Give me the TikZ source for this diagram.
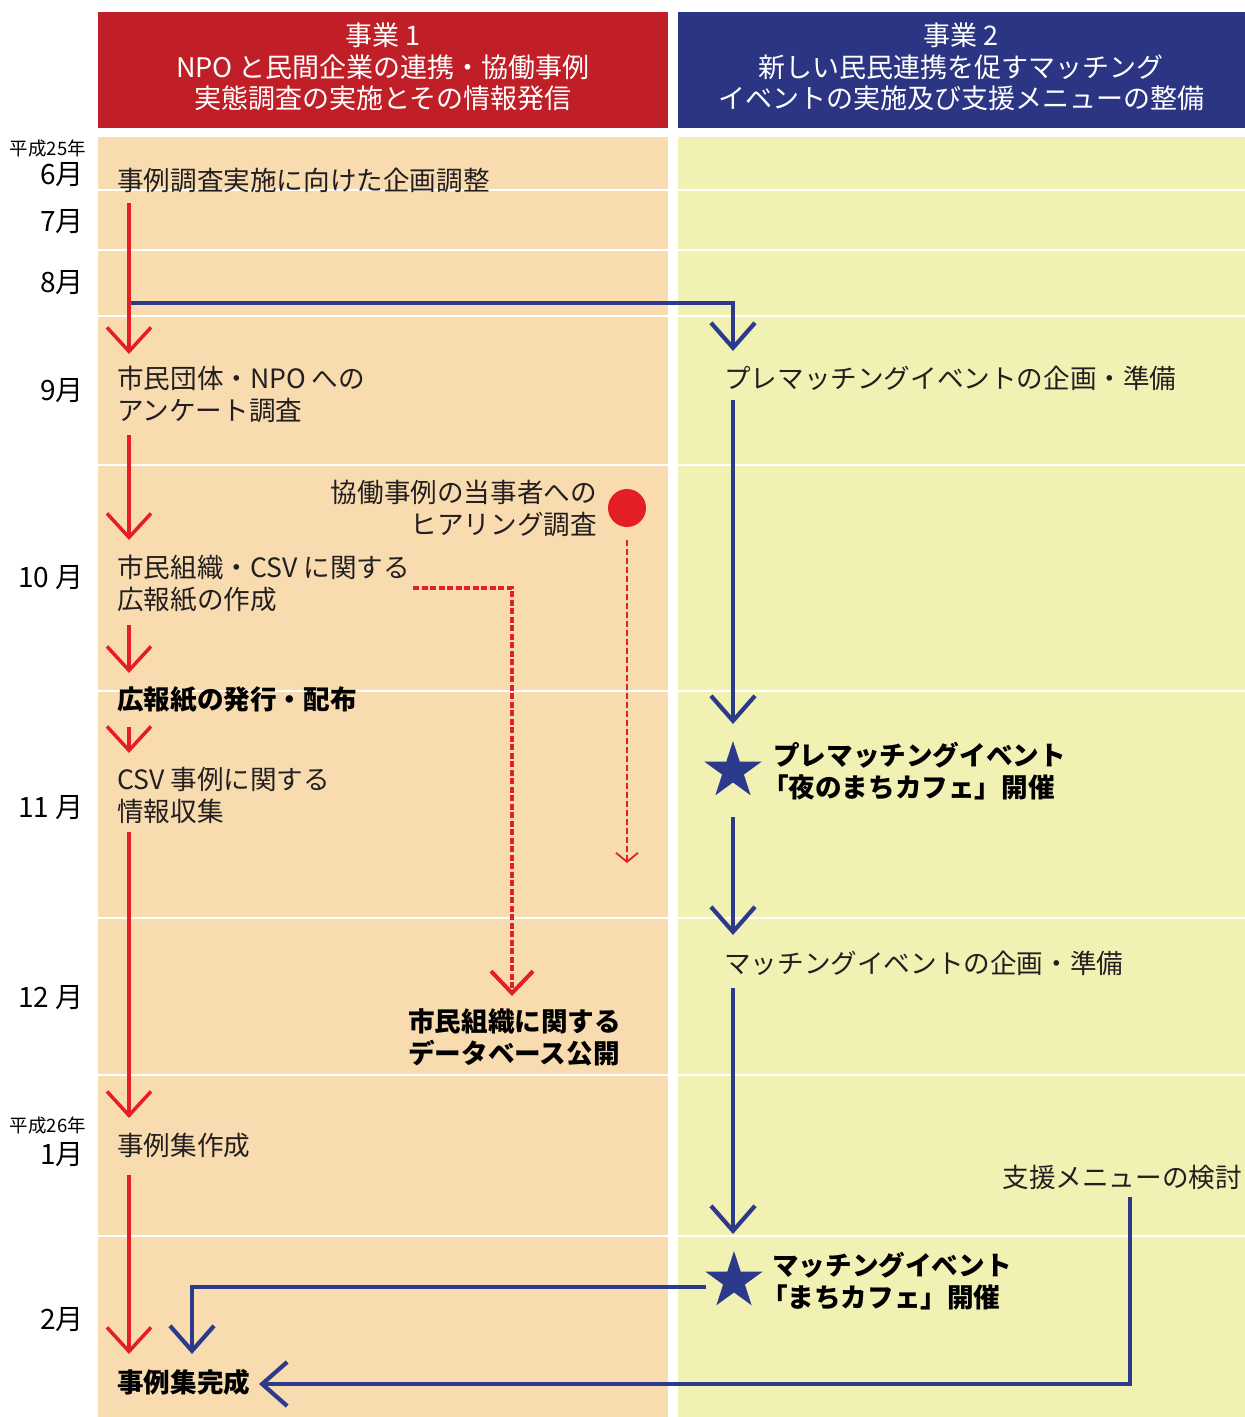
\documentclass[tikz,border=0pt]{standalone}
\usepackage{fontspec}
\setmainfont{Noto Sans CJK JP}
\usetikzlibrary{arrows.meta,shapes.geometric}
\definecolor{hred}{HTML}{C11F27}
\definecolor{hblue}{HTML}{2B3583}
\definecolor{bgor}{HTML}{F8DCB0}
\definecolor{bgye}{HTML}{F2F1B4}
\definecolor{lred}{HTML}{E31E25}
\definecolor{lblue}{HTML}{2B3A8A}
\definecolor{txt}{HTML}{231F20}
\tikzset{
  body/.style={text=txt, inner sep=0pt, font=\fontsize{26.6}{32}\selectfont},
  bodyl/.style={body, anchor=west, align=left},
  boldl/.style={body, anchor=west, align=left, font=\fontsize{26.6}{32}\selectfont\bfseries, text=black},
  month/.style={text=black, inner sep=0pt, anchor=east, font=\fontsize{28}{30}\selectfont},
  era/.style={text=black, inner sep=0pt, anchor=east, font=\fontsize{18.5}{20}\selectfont},
  head/.style={text=white, inner sep=0pt, align=center, font=\fontsize{27}{31.5}\selectfont},
  redarr/.style={draw=lred, line width=3.5pt, -{Straight Barb[length=24pt,width=44pt]}},
  bluearr/.style={draw=lblue, line width=4.2pt, -{Straight Barb[length=25pt,width=44pt]}},
  thickdash/.style={draw=lred, line width=4pt, dash pattern=on 6pt off 2.5pt, -{Straight Barb[length=22pt,width=42pt]}},
  thindash/.style={draw=lred, line width=1.8pt, dash pattern=on 6pt off 3pt, -{Straight Barb[length=9pt,width=22pt]}},
  starnode/.style={star, star points=5, star point ratio=2.618, fill=lblue, inner sep=0pt, minimum size=60pt}
}
\begin{document}
\begin{tikzpicture}[x=1pt,y=-1pt]
\useasboundingbox (0,0) rectangle (1245,1417);
% headers
\fill[hred] (98,12) rectangle (668,128);
\fill[hblue] (678,12) rectangle (1245,128);
% column backgrounds
\fill[bgor] (98,137) rectangle (668,1417);
\fill[bgye] (678,137) rectangle (1245,1417);
\foreach \yy in {190,250,316,465,691,918,1075,1236}
  \draw[white, line width=2.5pt] (98,\yy) -- (1245,\yy);

\node[head] (h1) at (383,67) {事業 1\\NPO と民間企業の連携・協働事例\\実態調査の実施とその情報発信};
\node[head] (h2) at (961,67) {事業 2\\新しい民民連携を促すマッチング\\イベントの実施及び支援メニューの整備};

% months
\node[era] (y25) at (86,148) {平成25年};
\node[month] (m6) at (84,175) {6月};
\node[month] (m7) at (84,222) {7月};
\node[month] (m8) at (84,283) {8月};
\node[month] (m9) at (84,391) {9月};
\node[month] (m10) at (84,578) {10 月};
\node[month] (m11) at (84,808) {11 月};
\node[month] (m12) at (84,998) {12 月};
\node[era] (y26) at (86,1125) {平成26年};
\node[month] (m1) at (84,1155) {1月};
\node[month] (m2) at (84,1320) {2月};

% left column texts
\node[bodyl] (plan) at (117,180) {事例調査実施に向けた企画調整};
\node[bodyl] (enq) at (117,394) {市民団体・NPO への\\アンケート調査};
\node[body, anchor=east, align=right] (hear) at (597,508) {協働事例の当事者への\\ヒアリング調査};
\node[circle, fill=lred, minimum size=38pt, inner sep=0pt] (dot) at (627,508) {};
\node[bodyl] (paper) at (117,584) {市民組織・CSV に関する\\広報紙の作成};
\node[boldl] (issue) at (117,700) {広報紙の発行・配布};
\node[bodyl] (csv) at (117,795) {CSV 事例に関する\\情報収集};
\node[boldl] (db) at (408,1037) {市民組織に関する\\データベース公開};
\node[bodyl] (case) at (117,1145) {事例集作成};
\node[boldl] (done) at (117,1382) {事例集完成};

% right column texts
\node[bodyl] (pre) at (724,378) {プレマッチングイベントの企画・準備};
\node[starnode] (s1) at (733,771) {};
\node[boldl] (ev1) at (773,771) {プレマッチングイベント\\\kern-0.42em「夜のまちカフェ」開催};
\node[bodyl] (match) at (724,963) {マッチングイベントの企画・準備};
\node[body, anchor=east] (menu) at (1242,1177) {支援メニューの検討};
\node[starnode] (s2) at (734,1281) {};
\node[boldl] (ev2) at (772,1281) {マッチングイベント\\\kern-0.42em「まちカフェ」開催};

% coordinates
\coordinate (r1a) at (129,203); \coordinate (r1b) at (129,354);
\coordinate (r2a) at (129,435); \coordinate (r2b) at (129,540);
\coordinate (r3a) at (129,625); \coordinate (r3b) at (129,673);
\coordinate (r4a) at (129,727); \coordinate (r4b) at (129,753);
\coordinate (r5a) at (129,832); \coordinate (r5b) at (129,1118);
\coordinate (r6a) at (129,1175); \coordinate (r6b) at (129,1354);
\coordinate (b0a) at (131,303); \coordinate (b0b) at (733,351);
\coordinate (b1a) at (733,400); \coordinate (b1b) at (733,724);
\coordinate (b2a) at (733,817); \coordinate (b2b) at (733,935);
\coordinate (b3a) at (733,988); \coordinate (b3b) at (733,1234);
\coordinate (b4a) at (706,1287); \coordinate (b4b) at (192,1354);
\coordinate (b5a) at (1130,1197); \coordinate (b5b) at (259,1384);
\coordinate (d1a) at (413,588); \coordinate (d1b) at (512,996);
\coordinate (d2a) at (627,540); \coordinate (d2b) at (627,863);

% red arrows
\draw[redarr] (r1a) -- (r1b);
\draw[redarr] (r2a) -- (r2b);
\draw[redarr] (r3a) -- (r3b);
\draw[redarr] (r4a) -- (r4b);
\draw[redarr] (r5a) -- (r5b);
\draw[redarr] (r6a) -- (r6b);
% dashed
\draw[thickdash] (d1a) -| (d1b);
\draw[thindash] (d2a) -- (d2b);
% blue arrows
\draw[bluearr] (b0a) -| (b0b);
\draw[bluearr] (b1a) -- (b1b);
\draw[bluearr] (b2a) -- (b2b);
\draw[bluearr] (b3a) -- (b3b);
\draw[bluearr] (b4a) -| (b4b);
\draw[bluearr] (b5a) |- (b5b);
\end{tikzpicture}
\end{document}
